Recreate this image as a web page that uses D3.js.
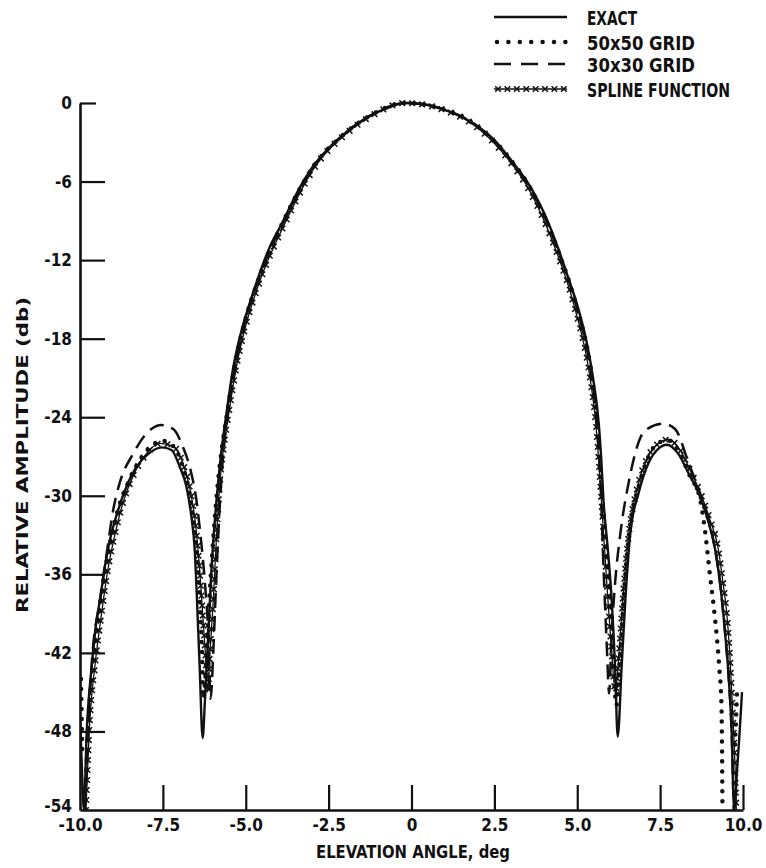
<!DOCTYPE html>
<html>
<head>
<meta charset="utf-8">
<script src="https://cdn.jsdelivr.net/npm/d3@7"></script>
<style>
  html, body { margin: 0; padding: 0; background: #fff; }
  svg text { font-family: "DejaVu Sans Condensed", "Liberation Sans Narrow", "Liberation Sans", sans-serif; font-weight: bold; fill: #111; }
</style>
</head>
<body>
<svg id="chart" width="766" height="868"></svg>
<script>
// ---- data ----
const seriesNames = ["EXACT", "50x50 GRID", "30x30 GRID", "SPLINE FUNCTION"];
const yTicks = [0, -6, -12, -18, -24, -30, -36, -42, -48, -54];
const xTicks = [-10, -7.5, -5, -2.5, 0, 2.5, 5, 7.5, 10];
const xTickLabels = ["-10.0", "-7.5", "-5.0", "-2.5", "0", "2.5", "5.0", "7.5", "10.0"];
const yTickLabels = ["0", "-6", "-12", "-18", "-24", "-30", "-36", "-42", "-48", "-54"];

const exact = [
  [-10.0,-47],[-9.94,-51],[-9.88,-54],[-9.8,-48.2],[-9.65,-43.1],[-9.5,-39.5],[-9.4,-38],[-9.25,-35.4],
  [-9.1,-33.4],[-8.85,-31.1],[-8.6,-29.3],[-8.3,-27.8],[-7.94,-26.8],[-7.54,-26.3],[-7.24,-26.5],
  [-6.99,-27.8],[-6.79,-29.3],[-6.64,-31.6],[-6.54,-34.1],[-6.47,-38],[-6.39,-43.1],[-6.3,-48.5],
  [-6.23,-45.6],[-6.13,-40.5],[-6.03,-35.4],[-5.88,-30.3],[-5.73,-26.5],[-5.62,-24.4],[-5.37,-20.1],
  [-5.12,-17.3],[-4.92,-15.6],[-4.62,-13.3],[-4.31,-11.2],[-3.91,-9.2],[-3.41,-6.65],[-3.0,-4.95],
  [-2.4,-3.2],[-2.0,-2.3],[-1.75,-1.8],[-1.2,-0.9],[-0.79,-0.45],[-0.2,0],[0.39,-0.1],[1.0,-0.53],
  [1.6,-1.17],[2.0,-1.8],[2.5,-2.83],[3.0,-4.35],[3.61,-6.5],[4.0,-8.4],[4.41,-11.0],[4.72,-13.3],
  [5.02,-15.6],[5.27,-18.1],[5.47,-20.9],[5.65,-24.5],[5.72,-27],[5.79,-30.3],[5.92,-34],[6.04,-38],
  [6.14,-43],[6.22,-48.4],[6.34,-43],[6.45,-38],[6.6,-32.9],[6.85,-29.8],[7.15,-27.5],[7.45,-26.4],
  [7.7,-26.1],[8.05,-26.8],[8.36,-28.3],[8.66,-29.8],[8.91,-31.6],[9.16,-34.1],[9.31,-36.7],
  [9.46,-40.5],[9.58,-44.3],[9.66,-48.2],[9.71,-53],[9.74,-54],[9.82,-51],[9.9,-48],[9.97,-45]
];

const grid50 = [
  [-9.97,-44],[-9.95,-47],[-9.93,-50], null,
  [-9.85,-54],[-9.78,-49],[-9.62,-43],[-9.38,-38],[-9.08,-33.4],[-8.85,-31],[-8.55,-29],[-8.2,-27.3],
  [-7.85,-26.2],[-7.5,-25.8],[-7.15,-26.3],[-6.9,-27.8],[-6.72,-29.5],[-6.58,-32],[-6.46,-35],
  [-6.38,-38.5],[-6.32,-42],[-6.28,-45.5],[-6.2,-43],[-6.1,-38],[-6.0,-34],[-5.86,-29.5],[-5.7,-26],
  [-5.58,-24],[-5.33,-20],[-5.08,-17.2],[-4.58,-13.2],[-3.88,-9.1],[-2.97,-4.9],[-2.0,-2.3],
  [-1.2,-0.9],[-0.2,0],[1.0,-0.5],[2.0,-1.8],[3.0,-4.4],[3.58,-6.5],[4.38,-11],[4.98,-15.6],
  [5.44,-20.9],[5.6,-24.5],[5.74,-30],[5.95,-37],[6.08,-42.5],[6.18,-46],[6.3,-42],[6.42,-37],
  [6.58,-32.5],[6.85,-29.3],[7.15,-27],[7.5,-25.9],[7.8,-25.8],[8.1,-26.8],[8.4,-28.5],[8.7,-30.2],
  [8.87,-33],[9.0,-36],[9.14,-39],[9.28,-43],[9.35,-46],[9.37,-50],[9.38,-54], null,
  [9.76,-49],[9.79,-47],[9.82,-45]
];

const grid30 = [
  [-9.85,-54],[-9.65,-43],[-9.4,-38],[-9.2,-34.5],[-9.0,-31.1],[-8.8,-29],[-8.4,-26.8],[-7.94,-25.1],
  [-7.54,-24.6],[-7.19,-24.9],[-6.89,-26.3],[-6.64,-28.3],[-6.49,-30.3],[-6.37,-32.9],[-6.23,-36.7],
  [-6.13,-40.5],[-6.06,-45.5],[-5.98,-42],[-5.9,-37],[-5.8,-31.5],[-5.7,-27.5],[-5.55,-24],[-5.3,-20],
  [-5.05,-17],[-4.55,-13],[-3.85,-9],[-2.95,-4.9],[-2.0,-2.3],[-1.2,-0.9],[-0.2,0],[1.0,-0.5],
  [2.0,-1.8],[3.0,-4.4],[3.58,-6.5],[4.38,-11],[4.98,-15.6],[5.43,-20.9],[5.6,-24.5],[5.7,-29],
  [5.8,-36],[5.9,-42],[5.96,-45.1],[6.04,-40.5],[6.14,-36.7],[6.3,-32.9],[6.55,-29],[7.05,-25],
  [7.6,-24.5],[7.95,-24.9],[8.36,-27.5],[8.7,-29.8],[8.95,-31.8],[9.16,-34.1],[9.31,-36.7],
  [9.46,-40.5],[9.58,-44.3],[9.66,-48.2],[9.72,-54]
];

const spline = [
  [-9.82,-54],[-9.7,-47],[-9.55,-43],[-9.35,-39],[-9.15,-35.5],[-8.95,-33],[-8.7,-30.5],[-8.4,-28.5],
  [-8.0,-26.8],[-7.6,-26.0],[-7.2,-26.2],[-6.9,-27.5],[-6.68,-29.5],[-6.5,-32.5],[-6.38,-36],
  [-6.3,-39],[-6.22,-42],[-6.15,-45],[-6.08,-42],[-5.98,-38],[-5.88,-33],[-5.78,-29],[-5.65,-26],
  [-5.5,-23.5],[-5.28,-20.1],[-5.03,-17.3],[-4.53,-13.3],[-3.82,-9.2],[-2.92,-4.9],[-1.95,-2.3],
  [-1.15,-0.9],[-0.2,0],[1.0,-0.55],[2.0,-1.9],[2.95,-4.4],[3.52,-6.5],[4.32,-11],[4.92,-15.6],
  [5.38,-20.9],[5.56,-24.5],[5.72,-30],[5.9,-37],[6.04,-42],[6.15,-45],[6.26,-42],[6.4,-37],
  [6.55,-33],[6.8,-29.5],[7.1,-27.2],[7.45,-26.0],[7.75,-25.7],[8.1,-26.5],[8.45,-28.3],[8.75,-30.0],
  [9.0,-31.8],[9.25,-34],[9.4,-36.7],[9.5,-38.7],[9.6,-42],[9.68,-46],[9.75,-50],[9.8,-54]
];

// ---- layout ----
const svg = d3.select("#chart");
const x = d3.scaleLinear().domain([-10, 10]).range([80, 743]);
const y = d3.scaleLinear().domain([-54, 0]).range([810, 103]);

svg.append("defs").append("clipPath").attr("id", "plotclip")
  .append("rect").attr("x", x(-10)).attr("y", y(0) - 4)
  .attr("width", x(10) - x(-10) + 6).attr("height", y(-54) - y(0) + 4);

const line = d3.line()
  .defined(d => d !== null)
  .x(d => x(d[0])).y(d => y(d[1]))
  .curve(d3.curveMonotoneX);

const plot = svg.append("g").attr("clip-path", "url(#plotclip)");

// exact: solid
plot.append("path").datum(exact).attr("d", line)
  .attr("fill", "none").attr("stroke", "#111").attr("stroke-width", 2.4)
  .attr("stroke-linejoin", "round");

// 30x30: dashed
plot.append("path").datum(grid30).attr("d", line)
  .attr("fill", "none").attr("stroke", "#111").attr("stroke-width", 2.5)
  .attr("stroke-dasharray", "15,8");

// 50x50: dots
plot.append("path").datum(grid50).attr("d", line)
  .attr("fill", "none").attr("stroke", "#111").attr("stroke-width", 4.5)
  .attr("stroke-linecap", "round").attr("stroke-dasharray", "0,10");

// spline: thin line with crosses
const splinePath = plot.append("path").datum(spline).attr("d", line)
  .attr("fill", "none").attr("stroke", "#111").attr("stroke-width", 1.3);
const pnode = splinePath.node();
const totalLen = pnode.getTotalLength();
const crossStep = 10, cs = 2.8;
const crosses = d3.range(0, totalLen, crossStep).map(l => pnode.getPointAtLength(l));
plot.append("g").selectAll("path").data(crosses).join("path")
  .attr("d", p => `M${p.x - cs},${p.y - cs}L${p.x + cs},${p.y + cs}M${p.x - cs},${p.y + cs}L${p.x + cs},${p.y - cs}`)
  .attr("stroke", "#111").attr("stroke-width", 1.5);

// ---- axes ----
const yAxis = d3.axisLeft(y).tickValues(yTicks)
  .tickFormat((d, i) => yTickLabels[i]).tickSize(-25).tickSizeOuter(0).tickPadding(8);
const gy = svg.append("g").attr("transform", `translate(${x(-10)},0)`).call(yAxis);
gy.attr("font-family", null).attr("font-size", null);
gy.select(".domain").attr("stroke", "#111").attr("stroke-width", 2.6);
gy.selectAll(".tick line").attr("stroke", "#111").attr("stroke-width", 2.2);
gy.selectAll(".tick").filter(d => d === 0).select("line").attr("x2", 16);
gy.selectAll(".tick").filter(d => d === -54).select("line").remove();
gy.selectAll(".tick text").attr("font-size", 17).attr("fill", "#111");
gy.selectAll(".tick").filter(d => d === -54).select("text").attr("dy", "0.1em");

const xAxis = d3.axisBottom(x).tickValues(xTicks)
  .tickFormat((d, i) => xTickLabels[i]).tickSize(-25).tickSizeOuter(0).tickPadding(9);
const gx = svg.append("g").attr("transform", `translate(0,${y(-54)})`).call(xAxis);
gx.attr("font-family", null).attr("font-size", null);
gx.select(".domain").attr("stroke", "#111").attr("stroke-width", 2.6);
gx.selectAll(".tick line").attr("stroke", "#111").attr("stroke-width", 2.2);
gx.selectAll(".tick").filter(d => d === -10).select("line").remove();
gx.selectAll(".tick text").attr("font-size", 17).attr("fill", "#111");

// axis titles
svg.append("text").attr("x", 413).attr("y", 858).attr("text-anchor", "middle")
  .attr("font-size", 17).attr("textLength", 194).attr("lengthAdjust", "spacingAndGlyphs")
  .text("ELEVATION ANGLE, deg");
svg.append("text").attr("transform", "translate(28,455) rotate(-90)").attr("text-anchor", "middle")
  .attr("font-size", 16).attr("textLength", 316).attr("lengthAdjust", "spacingAndGlyphs")
  .text("RELATIVE AMPLITUDE (db)");

// ---- legend ----
const legY = [17, 42, 64, 89];
const lx0 = 494, lx1 = 567, tx = 587;
const leg = svg.append("g");
leg.append("line").attr("x1", lx0).attr("x2", lx1).attr("y1", legY[0]).attr("y2", legY[0])
  .attr("stroke", "#111").attr("stroke-width", 2.4);
leg.append("line").attr("x1", lx0 + 3).attr("x2", lx1).attr("y1", legY[1]).attr("y2", legY[1])
  .attr("stroke", "#111").attr("stroke-width", 4.5).attr("stroke-linecap", "round")
  .attr("stroke-dasharray", "0,11.4");
leg.append("line").attr("x1", lx0).attr("x2", lx1).attr("y1", legY[2]).attr("y2", legY[2])
  .attr("stroke", "#111").attr("stroke-width", 2.5).attr("stroke-dasharray", "17,10");
leg.append("line").attr("x1", lx0).attr("x2", lx1).attr("y1", legY[3]).attr("y2", legY[3])
  .attr("stroke", "#111").attr("stroke-width", 1.3);
leg.append("g").selectAll("path").data(d3.range(8)).join("path")
  .attr("d", i => { const cx = lx0 + 4 + i * 9.4, cy = legY[3];
    return `M${cx - cs},${cy - cs}L${cx + cs},${cy + cs}M${cx - cs},${cy + cs}L${cx + cs},${cy - cs}`; })
  .attr("stroke", "#111").attr("stroke-width", 1.5);

const legLens = [50, 108, 108, 143];
leg.selectAll("text.lab").data(seriesNames).join("text").attr("class", "lab")
  .attr("x", tx).attr("y", (d, i) => legY[i] + 8)
  .attr("font-size", 19).attr("textLength", (d, i) => legLens[i]).attr("lengthAdjust", "spacingAndGlyphs")
  .text(d => d);
</script>
</body>
</html>
